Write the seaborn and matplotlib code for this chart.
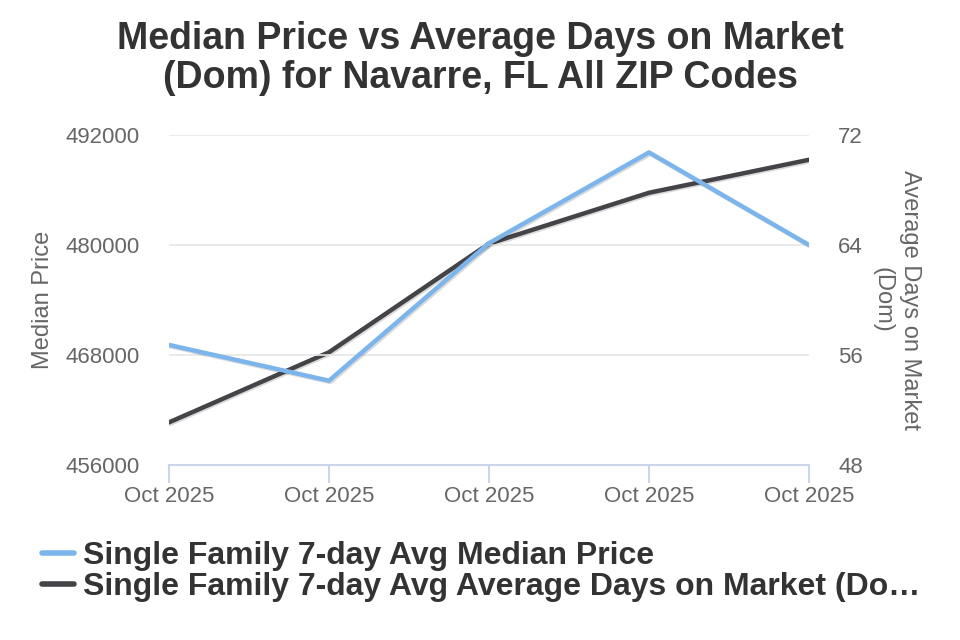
import pandas as pd
import numpy as np
import matplotlib.pyplot as plt
import matplotlib.patheffects as pe
import seaborn as sns

# ------------------------------------------------------------------------------
# Data
# ------------------------------------------------------------------------------
dates = ["Oct 2025", "Oct 2025", "Oct 2025", "Oct 2025", "Oct 2025"]
median_price = [469100, 465200, 480200, 490100, 480000]
avg_dom = [51.1, 56.2, 64.1, 67.8, 70.2]

price_ticks = [456000, 468000, 480000, 492000]
dom_ticks = [48, 56, 64, 72]

price_label = "Single Family 7-day Avg Median Price"
dom_label = "Single Family 7-day Avg Average Days on Market (Do\u2026"

df = pd.DataFrame({"pos": range(len(dates)), "price": median_price, "dom": avg_dom})

sns.set_style("white")
plt.rcParams["font.family"] = ["Liberation Sans", "DejaVu Sans"]

blue = "#7cb5ec"
dark = "#434348"
grey_text = "#666666"
axis_col = "#ccd6eb"

fig = plt.figure(figsize=(9.6, 6.4), dpi=100)
ax = fig.add_axes([169 / 960, 1 - 465 / 640, 640 / 960, 330 / 640])
ax2 = ax.twinx()

shadow = [pe.SimpleLineShadow(offset=(1, -1), alpha=0.15, shadow_color="black"), pe.Normal()]

sns.lineplot(data=df, x="pos", y="price", ax=ax, color=blue, linewidth=3.2,
             path_effects=shadow, legend=False)
sns.lineplot(data=df, x="pos", y="dom", ax=ax2, color=dark, linewidth=3.2,
             path_effects=shadow, legend=False)

ax.set_xlim(0, len(dates) - 1)
ax.set_ylim(price_ticks[0], price_ticks[-1])
ax2.set_ylim(dom_ticks[0], dom_ticks[-1])
ax.set_yticks(price_ticks)
ax2.set_yticks(dom_ticks)
ax.set_xticks(range(len(dates)))
ax.set_xticklabels(dates)

# grid lines
for t in price_ticks[1:]:
    ax.axhline(t, color="#e6e6e6", linewidth=1.2, zorder=0)

for a in (ax, ax2):
    for s in a.spines.values():
        s.set_visible(False)
ax.spines["bottom"].set_visible(True)
ax.spines["bottom"].set_color(axis_col)
ax.spines["bottom"].set_linewidth(1.5)

ax.tick_params(axis="x", length=13, width=1.5, color=axis_col, labelsize=16,
               labelcolor=grey_text, pad=2, direction="out", bottom=True)
ax.tick_params(axis="y", length=0, labelsize=16, labelcolor=grey_text, pad=21)
ax2.tick_params(axis="y", length=0, labelsize=16, labelcolor=grey_text, pad=21)

ax.set_xlabel("")
ax.set_ylabel("Median Price", fontsize=17, color=grey_text)
ax.yaxis.set_label_coords(-0.18, 0.5)
ax2.set_ylabel("Average Days on Market\n(Dom)", fontsize=17, color=grey_text,
               rotation=-90, linespacing=1.3)
ax2.yaxis.set_label_coords(1.175, 0.5)

ax.set_zorder(ax2.get_zorder() + 1)
ax.patch.set_visible(False)

fig.text(0.5, 0.908, "Median Price vs Average Days on Market\n(Dom) for Navarre, FL All ZIP Codes",
         ha="center", va="center", fontsize=27, fontweight="bold", color="#333333",
         linespacing=1.1)

handles = [plt.Line2D([], [], color=blue, linewidth=4),
           plt.Line2D([], [], color=dark, linewidth=4)]
leg = fig.legend(handles, [price_label, dom_label], loc="upper left",
                 bbox_to_anchor=(0.03, 0.175), frameon=False, handlelength=1.0,
                 handletextpad=0.3, labelspacing=0.05, borderaxespad=0,
                 prop={"size": 23, "weight": "bold"})
for t in leg.get_texts():
    t.set_color("#333333")

fig.savefig("out.png", dpi=100)
